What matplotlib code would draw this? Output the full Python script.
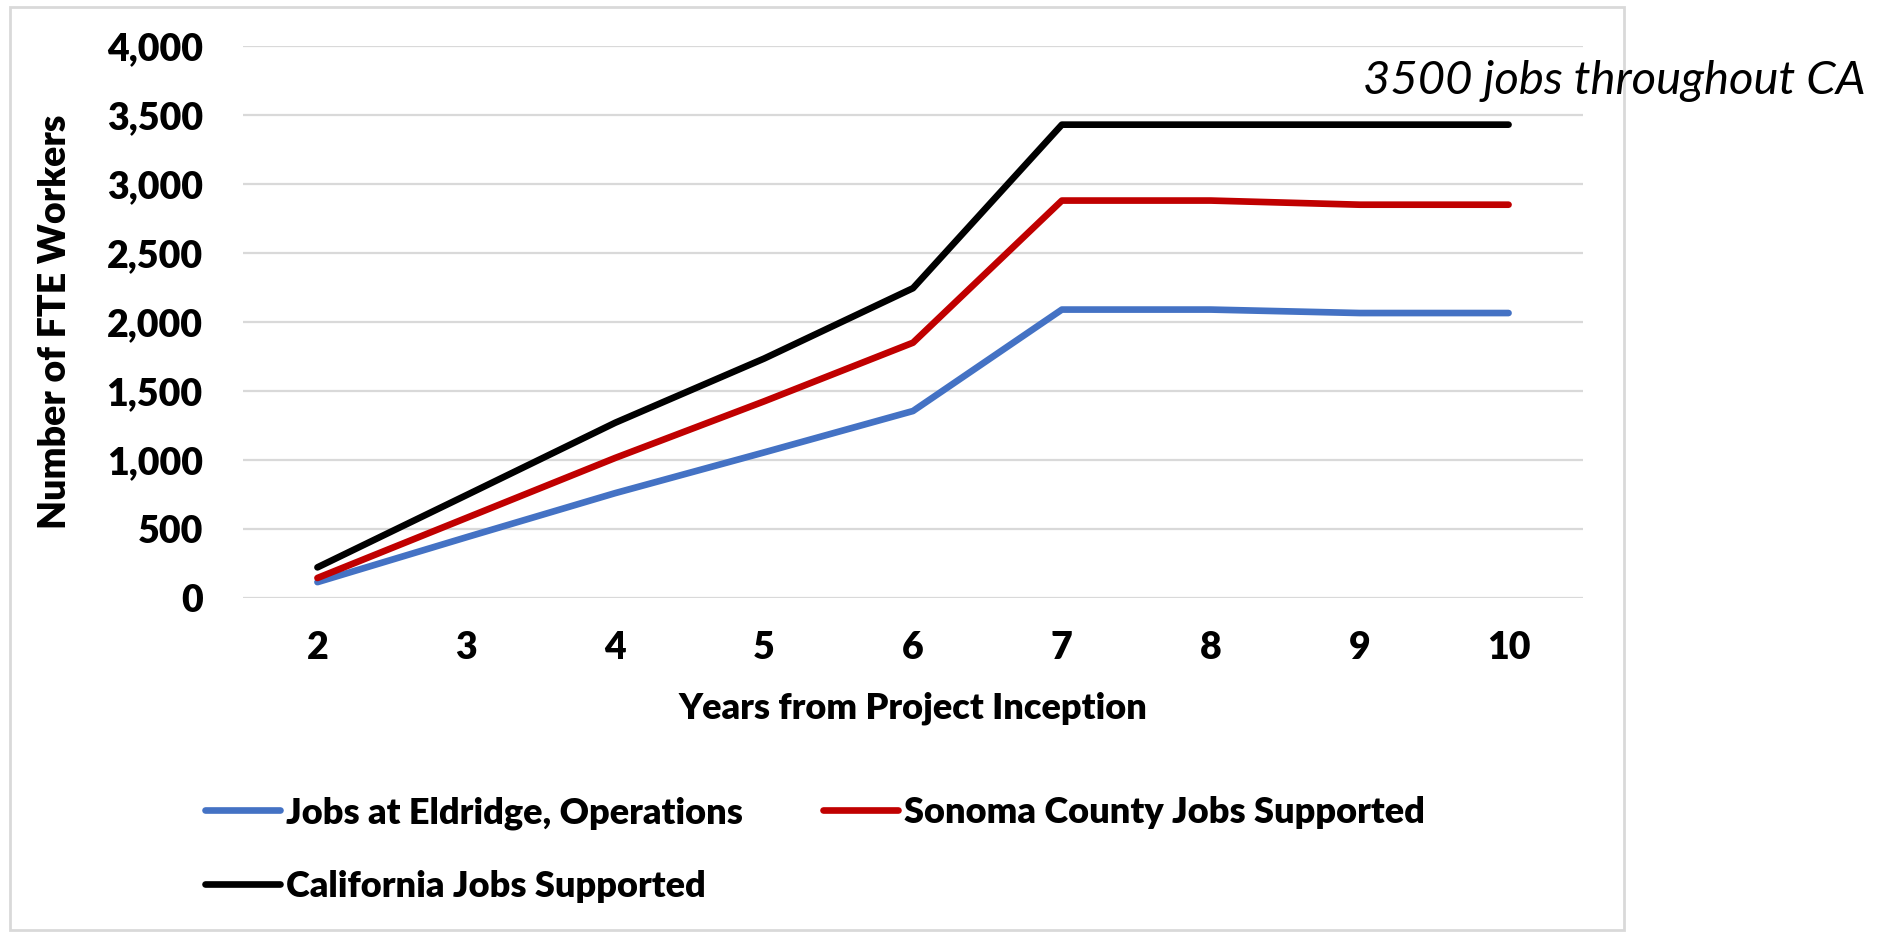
import matplotlib
matplotlib.use("Agg")
import matplotlib.pyplot as plt
from matplotlib.ticker import FuncFormatter

# ---- data ----
years = [2, 3, 4, 5, 6, 7, 8, 9, 10]
eldridge_jobs = [115, 440, 760, 1055, 1355, 2090, 2090, 2065, 2065]
sonoma_jobs = [145, 580, 1015, 1425, 1850, 2880, 2880, 2850, 2850]
california_jobs = [222, 745, 1270, 1735, 2245, 3430, 3430, 3430, 3430]
series_labels = ["Jobs at Eldridge, Operations",
                 "Sonoma County Jobs Supported",
                 "California Jobs Supported"]
y_ticks = [0, 500, 1000, 1500, 2000, 2500, 3000, 3500, 4000]
annotation = "3500 jobs throughout CA"

FONT = "Lato"
WEIGHT = "heavy"
FS = 27
W, H = 1895, 933
fig = plt.figure(figsize=(W / 100, H / 100), dpi=100)
fig.patch.set_facecolor("white")

# outer light frame
fig.add_artist(plt.Rectangle((10 / W, 1 - 930 / H), (1624 - 10) / W, (930 - 7) / H,
                             transform=fig.transFigure, fill=False,
                             edgecolor="#d9d9d9", linewidth=2.0))

ax = fig.add_axes([243 / W, 1 - 598 / H, (1583 - 243) / W, (598 - 46) / H])
colors = ["#4472C4", "#C00000", "#000000"]
lines = []
for vals, c, lab in zip([eldridge_jobs, sonoma_jobs, california_jobs], colors, series_labels):
    ln, = ax.plot(years, vals, color=c, lw=4.8, solid_capstyle="round",
                  solid_joinstyle="round", label=lab, zorder=3)
    lines.append(ln)

ax.set_xlim(1.5, 10.5)
ax.set_ylim(0, 4000)
ax.set_yticks(y_ticks)
ax.set_xticks(years)
ax.yaxis.set_major_formatter(FuncFormatter(lambda v, p: f"{int(v):,}"))
ax.grid(axis="y", color="#d9d9d9", lw=1.6, zorder=0)
ax.grid(axis="x", visible=False)
for s in ax.spines.values():
    s.set_visible(False)
ax.tick_params(axis="both", length=0, labelsize=FS)
ax.tick_params(axis="y", pad=29)
ax.tick_params(axis="x", pad=24)
for t in ax.get_xticklabels() + ax.get_yticklabels():
    t.set_fontfamily(FONT)
    t.set_fontweight(WEIGHT)

ax.set_xlabel("Years from Project Inception", fontsize=26, fontweight=WEIGHT,
              fontfamily=FONT, labelpad=18.5)
ax.set_ylabel("Number of FTE Workers", fontsize=FS, fontweight=WEIGHT,
              fontfamily=FONT, labelpad=25)

fig.text(1363 / W, 1 - 81 / H, annotation, fontsize=34, style="italic",
         fontfamily=FONT, ha="left", va="center")

order = [0, 2, 1]
leg = fig.legend([lines[i] for i in order], [series_labels[i] for i in order],
                 ncol=2, loc="upper left", bbox_to_anchor=(205 / W, 1 - 796 / H),
                 frameon=False, handlelength=2.08, handletextpad=0.17,
                 columnspacing=2.2, labelspacing=1.12, borderpad=0, borderaxespad=0,
                 prop={"family": FONT, "weight": WEIGHT, "size": 26})

fig.savefig("out.png", dpi=100, facecolor="white")
